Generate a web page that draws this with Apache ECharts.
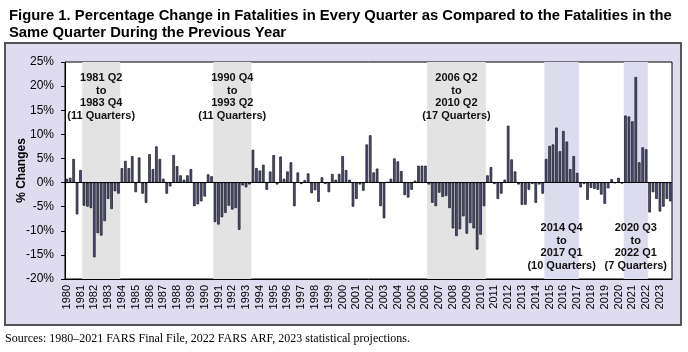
<!DOCTYPE html>
<html>
<head>
<meta charset="utf-8">
<script src="https://cdn.jsdelivr.net/npm/echarts@6/dist/echarts.min.js"></script>
<style>
html, body { margin: 0; padding: 0; background: #fff; }
#main { width: 688px; height: 352px; }
</style>
</head>
<body>
<div id="main"></div>
<script>
// years on the x axis, 4 quarters each
var years = [1980, 1981, 1982, 1983, 1984, 1985, 1986, 1987, 1988, 1989,
    1990, 1991, 1992, 1993, 1994, 1995, 1996, 1997, 1998, 1999,
    2000, 2001, 2002, 2003, 2004, 2005, 2006, 2007, 2008, 2009,
    2010, 2011, 2012, 2013, 2014, 2015, 2016, 2017, 2018, 2019,
    2020, 2021, 2022, 2023];
var quarters = ['Q1', 'Q2', 'Q3', 'Q4'];

// % change vs same quarter of previous year (Q1..Q4 per row)
var pctChange = [
    0.8, 1.0, 4.9, -6.6,      // 1980
    2.6, -4.8, -5.0, -5.3,    // 1981
    -15.5, -10.5, -11.0, -8.0,// 1982
    -3.4, -5.5, -1.8, -2.3,   // 1983
    3.0, 4.5, 3.0, 5.5,       // 1984
    -2.0, 5.2, -2.3, -4.2,    // 1985
    5.9, 2.8, 7.5, 4.9,       // 1986
    0.8, -2.3, -0.8, 5.7,     // 1987
    3.4, 1.5, 0.6, 1.5,       // 1988
    2.8, -4.9, -4.5, -3.9,    // 1989
    -2.9, 1.7, 1.3, -8.2,     // 1990
    -8.7, -7.2, -6.3, -4.8,   // 1991
    -5.6, -5.3, -9.8, -0.6,   // 1992
    -1.0, -0.4, 6.8, 3.0,     // 1993
    2.5, 3.7, -1.5, 2.3,      // 1994
    5.7, -0.4, 5.4, 0.8,      // 1995
    2.3, 4.2, -4.9, 2.1,      // 1996
    -0.3, 0.5, 1.9, -2.2,     // 1997
    -1.6, -4.0, 1.1, -0.3,    // 1998
    -2.0, 1.8, 0.6, 1.8,      // 1999
    5.5, 2.6, 0.6, -5.0,      // 2000
    -3.4, -0.4, -1.7, 7.9,    // 2001
    9.8, 2.1, 2.9, -4.9,      // 2002
    -7.4, 0.1, 0.8, 5.0,      // 2003
    4.4, 2.4, -2.6, -3.1,     // 2004
    -1.5, 0.4, 3.5, 3.5,      // 2005
    3.5, -0.4, -4.2, -4.9,    // 2006
    -2.1, -3.0, -2.8, -5.3,   // 2007
    -9.5, -11.1, -9.7, -7.0,  // 2008
    -10.6, -8.4, -9.5, -13.9, // 2009
    -10.8, -4.9, 1.5, 3.2,    // 2010
    -0.3, -3.4, -2.3, 0.6,    // 2011
    11.8, 4.8, 2.3, -0.4,     // 2012
    -4.6, -4.6, -1.5, -0.3,   // 2013
    -4.2, -0.4, -2.3, 4.9,    // 2014
    7.6, 7.9, 11.4, 6.5,      // 2015
    10.7, 8.5, 2.8, 5.5,      // 2016
    2.0, -1.0, -0.3, -3.6,    // 2017
    -1.1, -1.3, -1.5, -2.5,   // 2018
    -4.4, -1.2, 0.7, -0.1,    // 2019
    1.0, -0.2, 13.9, 13.7,    // 2020
    12.7, 21.9, 4.2, 7.3,     // 2021
    6.9, -6.2, -2.0, -3.4,    // 2022
    -6.0, -5.0, -3.4, -3.9    // 2023
];

// highlighted periods
var periodFrom = ['1981 Q2', '1990 Q4', '2006 Q2', '2014 Q4', '2020 Q3'];
var periodTo = ['1983 Q4', '1993 Q2', '2010 Q2', '2017 Q1', '2022 Q1'];
var periodNote = [
    '1981 Q2\nto\n1983 Q4\n(11 Quarters)',
    '1990 Q4\nto\n1993 Q2\n(11 Quarters)',
    '2006 Q2\nto\n2010 Q2\n(17 Quarters)',
    '2014 Q4\nto\n2017 Q1\n(10 Quarters)',
    '2020 Q3\nto\n2022 Q1\n(7 Quarters)'
];
var periodRising = [false, false, false, true, true];

var categories = [];
years.forEach(function (y) {
    quarters.forEach(function (q) { categories.push(y + ' ' + q); });
});

var areas = periodFrom.map(function (from, i) {
    var rising = periodRising[i];
    return [{
        xAxis: categories.indexOf(from),
        itemStyle: { color: rising ? '#dcdcee' : '#e3e3e3' },
        label: {
            show: true,
            position: rising ? 'insideBottom' : 'insideTop',
            distance: rising ? 7 : 10,
            formatter: periodNote[i],
            color: '#111',
            fontFamily: 'Liberation Sans, Arial, sans-serif',
            fontWeight: 'bold',
            fontSize: 11,
            lineHeight: 12.5,
            align: 'center'
        }
    }, {
        xAxis: categories.indexOf(periodTo[i]) + 1
    }];
});

var myChart = echarts.init(document.getElementById('main'), null, { renderer: 'canvas' });

var option = {
    backgroundColor: '#fff',
    animation: false,
    textStyle: { fontFamily: 'Liberation Sans, Arial, sans-serif' },
    title: {
        text: 'Figure 1. Percentage Change in Fatalities in Every Quarter as Compared to the Fatalities in the\nSame Quarter During the Previous Year',
        left: 4,
        top: 2,
        textStyle: {
            fontFamily: 'Liberation Sans, Arial, sans-serif',
            fontWeight: 'bold',
            fontSize: 14.8,
            lineHeight: 17,
            color: '#000'
        }
    },
    graphic: [{
        type: 'rect',
        z: -10,
        shape: { x: 5, y: 43, width: 676, height: 282 },
        style: { fill: '#dedcee', stroke: '#555', lineWidth: 2 }
    }, {
        type: 'text',
        left: 5,
        top: 333,
        style: {
            text: 'Sources: 1980\u20132021 FARS Final File, 2022 FARS ARF, 2023 statistical projections.',
            font: '12px "Liberation Serif", "Times New Roman", serif',
            fill: '#000'
        }
    }],
    grid: {
        left: 65, right: 16, top: 62, bottom: 73,
        show: true,
        backgroundColor: '#fff',
        borderColor: '#000',
        borderWidth: 1,
        outerBoundsMode: 'none'
    },
    xAxis: [{
        type: 'category',
        data: categories,
        boundaryGap: true,
        axisLine: { onZero: false, lineStyle: { color: '#000' } },
        axisTick: { show: false },
        axisLabel: {
            interval: 3,
            rotate: 90,
            margin: 6,
            fontSize: 11,
            color: '#000',
            formatter: function (v) { return v.slice(0, 4); }
        }
    }, {
        type: 'value',
        min: 0,
        max: categories.length,
        show: false
    }],
    yAxis: {
        type: 'value',
        min: -20,
        max: 25,
        interval: 5,
        name: '% Changes',
        nameLocation: 'middle',
        nameGap: 37,
        nameMoveOverlap: false,
        nameTextStyle: { fontWeight: 'bold', fontSize: 12, color: '#000' },
        axisLine: { show: true, lineStyle: { color: '#000' } },
        axisTick: { show: true, length: 4, lineStyle: { color: '#000' } },
        axisLabel: { formatter: '{value}%', fontSize: 12, color: '#000', margin: 11 },
        splitLine: { show: false }
    },
    series: [{
        type: 'line',
        xAxisIndex: 1,
        data: [],
        z: 1,
        silent: true,
        markArea: { silent: true, data: areas }
    }, {
        type: 'bar',
        xAxisIndex: 0,
        z: 3,
        data: pctChange,
        barCategoryGap: '25%',
        itemStyle: { color: '#4f4f75', borderColor: '#15151f', borderWidth: 0.7 },
        markLine: {
            silent: true,
            symbol: 'none',
            label: { show: false },
            lineStyle: { color: '#000', type: 'solid', width: 1 },
            data: [{ yAxis: 0 }]
        }
    }]
};

myChart.setOption(option);
</script>
</body>
</html>
